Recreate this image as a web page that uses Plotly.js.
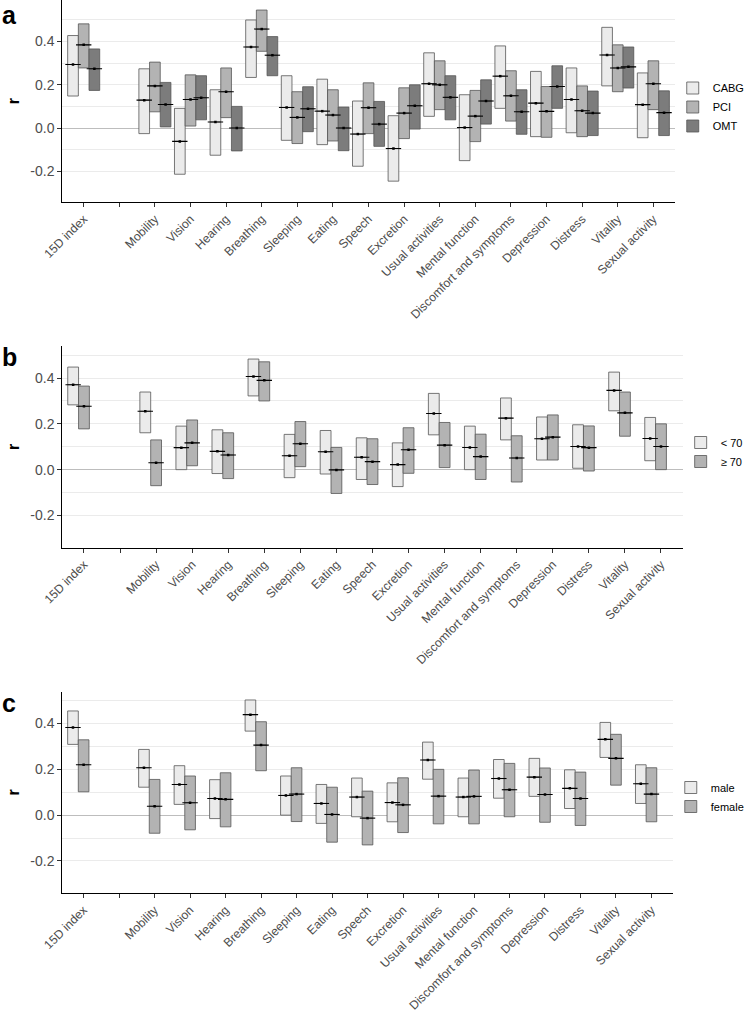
<!DOCTYPE html>
<html>
<head>
<meta charset="utf-8">
<script src="https://cdn.plot.ly/plotly-3.0.1.min.js"></script>
<style>
  html, body { margin: 0; padding: 0; background: #fff; }
  #chart { width: 750px; height: 1013px; }
</style>
</head>
<body>
<div id="chart"></div>
<script>
/******************** DATA ********************/
// tick slots on the x axis; the empty one is the gap after the index
const tickLabels = ['15D index', '', 'Mobility', 'Vision', 'Hearing', 'Breathing', 'Sleeping',
  'Eating', 'Speech', 'Excretion', 'Usual activities', 'Mental function',
  'Discomfort and symptoms', 'Depression', 'Distress', 'Vitality', 'Sexual activity'];
const dimensions = tickLabels.filter(s => s !== '');

const yTickVals = [-0.2, 0, 0.2, 0.4];
const yTickText = ['-0.2', '0.0', '0.2', '0.4'];
const yMinorVals = [-0.1, 0.1, 0.3, 0.5];

// panel a: treatment group
const cabgEst = [0.294, 0.129, -0.062, 0.028, 0.375, 0.095, 0.078, -0.028, -0.095, 0.205, 0.002, 0.240, 0.115, 0.132, 0.338, 0.108];
const cabgLo  = [0.148, -0.026, -0.214, -0.126, 0.234, -0.057, -0.077, -0.177, -0.246, 0.054, -0.151, 0.091, -0.040, -0.022, 0.195, -0.045];
const cabgHi  = [0.428, 0.274, 0.091, 0.177, 0.500, 0.242, 0.226, 0.125, 0.057, 0.348, 0.154, 0.380, 0.262, 0.278, 0.466, 0.255];
const pciEst  = [0.385, 0.195, 0.132, 0.168, 0.458, 0.049, 0.060, 0.094, 0.069, 0.200, 0.055, 0.149, 0.077, 0.080, 0.278, 0.205];
const pciLo   = [0.278, 0.075, 0.009, 0.048, 0.355, -0.072, -0.060, -0.026, -0.049, 0.085, -0.063, 0.032, -0.043, -0.040, 0.168, 0.085];
const pciHi   = [0.482, 0.305, 0.246, 0.278, 0.546, 0.168, 0.177, 0.209, 0.186, 0.311, 0.174, 0.265, 0.192, 0.195, 0.385, 0.311];
const omtEst  = [0.274, 0.109, 0.140, 0.000, 0.337, 0.089, 0.000, 0.018, 0.103, 0.142, 0.125, 0.075, 0.192, 0.069, 0.283, 0.071];
const omtLo   = [0.174, 0.005, 0.038, -0.106, 0.242, -0.017, -0.105, -0.085, -0.005, 0.038, 0.018, -0.029, 0.091, -0.035, 0.185, -0.035];
const omtHi   = [0.366, 0.211, 0.242, 0.100, 0.423, 0.191, 0.097, 0.123, 0.200, 0.242, 0.223, 0.177, 0.288, 0.171, 0.375, 0.172];

// panel b: age group
const youngEst = [0.371, 0.255, 0.096, 0.080, 0.407, 0.061, 0.078, 0.054, 0.022, 0.245, 0.097, 0.225, 0.135, 0.101, 0.346, 0.136];
const youngLo  = [0.283, 0.161, 0.000, -0.017, 0.322, -0.035, -0.019, -0.043, -0.074, 0.152, 0.000, 0.130, 0.042, 0.006, 0.257, 0.039];
const youngHi  = [0.448, 0.339, 0.190, 0.174, 0.483, 0.154, 0.171, 0.139, 0.117, 0.333, 0.190, 0.313, 0.230, 0.196, 0.426, 0.228];
const oldEst   = [0.277, 0.030, 0.117, 0.064, 0.390, 0.113, -0.001, 0.035, 0.087, 0.107, 0.057, 0.051, 0.142, 0.096, 0.248, 0.101];
const oldLo    = [0.178, -0.070, 0.017, -0.039, 0.300, 0.013, -0.104, -0.065, -0.016, 0.009, -0.043, -0.054, 0.042, -0.006, 0.146, 0.000];
const oldHi    = [0.365, 0.130, 0.217, 0.161, 0.471, 0.210, 0.097, 0.135, 0.183, 0.206, 0.155, 0.148, 0.239, 0.191, 0.339, 0.200];

// panel c: sex
const maleEst   = [0.383, 0.207, 0.134, 0.073, 0.439, 0.086, 0.051, 0.079, 0.055, 0.241, 0.079, 0.160, 0.166, 0.117, 0.331, 0.137];
const maleLo    = [0.309, 0.122, 0.047, -0.015, 0.367, 0.000, -0.036, -0.007, -0.029, 0.157, -0.007, 0.074, 0.082, 0.029, 0.252, 0.051];
const maleHi    = [0.455, 0.287, 0.216, 0.155, 0.503, 0.171, 0.134, 0.162, 0.141, 0.319, 0.162, 0.243, 0.248, 0.198, 0.405, 0.220];
const femaleEst = [0.220, 0.039, 0.054, 0.069, 0.306, 0.092, 0.003, -0.013, 0.045, 0.083, 0.082, 0.111, 0.090, 0.073, 0.248, 0.092];
const femaleLo  = [0.102, -0.079, -0.064, -0.051, 0.194, -0.028, -0.118, -0.130, -0.076, -0.038, -0.038, -0.007, -0.031, -0.045, 0.131, -0.029];
const femaleHi  = [0.329, 0.156, 0.171, 0.185, 0.408, 0.207, 0.122, 0.105, 0.163, 0.200, 0.197, 0.226, 0.206, 0.188, 0.353, 0.207];

/******************** STYLE ********************/
const FONT = 'Liberation Sans, Arial, sans-serif';
const DODGE = 0.3;          // offset between groups within a category
const BOX_W = 0.3;          // crossbar width in category units
const fills = ['#ebebeb', '#b3b3b3', '#7c7c7c'];

const panels = [
  { xa: 'x',  ya: 'y',  legend: 'legend',  series: [
      { name: 'CABG', est: cabgEst, lo: cabgLo, hi: cabgHi },
      { name: 'PCI',  est: pciEst,  lo: pciLo,  hi: pciHi },
      { name: 'OMT',  est: omtEst,  lo: omtLo,  hi: omtHi } ] },
  { xa: 'x2', ya: 'y2', legend: 'legend2', series: [
      { name: '< 70', est: youngEst, lo: youngLo, hi: youngHi },
      { name: '\u2265 70', est: oldEst, lo: oldLo, hi: oldHi } ] },
  { xa: 'x3', ya: 'y3', legend: 'legend3', series: [
      { name: 'male',   est: maleEst,   lo: maleLo,   hi: maleHi },
      { name: 'female', est: femaleEst, lo: femaleLo, hi: femaleHi } ] }
];

/******************** TRACES ********************/
const basePos = dimensions.map(d => tickLabels.indexOf(d));
const traces = [];

panels.forEach(panel => {
  panel.series.forEach((s, i) => {
    const xs = basePos.map(p => p + (i - 1) * DODGE);
    // crossbar body
    traces.push({
      type: 'box', name: s.name, xaxis: panel.xa, yaxis: panel.ya, legend: panel.legend,
      x: xs, q1: s.lo, median: s.est, q3: s.hi, lowerfence: s.lo, upperfence: s.hi,
      width: BOX_W, whiskerwidth: 0, boxpoints: false,
      fillcolor: fills[i], line: { color: '#555555', width: 0.8 },
      hoverinfo: 'skip'
    });
    // middle line (black) and point
    traces.push({
      type: 'scatter', mode: 'markers', xaxis: panel.xa, yaxis: panel.ya,
      x: xs, y: s.est, showlegend: false, hoverinfo: 'skip',
      marker: { symbol: 'line-ew', size: 11, line: { color: '#000', width: 1.1 } }
    });
    traces.push({
      type: 'scatter', mode: 'markers', xaxis: panel.xa, yaxis: panel.ya,
      x: xs, y: s.est, showlegend: false, hoverinfo: 'skip',
      marker: { symbol: 'square', size: 2.5, color: '#000' }
    });
  });
});

/******************** LAYOUT ********************/
function xAxis(domain, anchor) {
  return {
    domain: domain, anchor: anchor, range: [-0.6, 16.6],
    tickmode: 'array', tickvals: tickLabels.map((_, i) => i), ticktext: tickLabels,
    tickangle: -45, tickfont: { family: FONT, size: 12.2, color: '#4d4d4d' },
    ticks: 'outside', ticklen: 4, tickwidth: 1, tickcolor: '#333',
    showline: true, linecolor: '#000', linewidth: 1.1,
    showgrid: false, zeroline: false, automargin: false
  };
}
function yAxis(domain, anchor, range) {
  return {
    domain: domain, anchor: anchor, range: range,
    tickmode: 'array', tickvals: yTickVals, ticktext: yTickText,
    tickfont: { family: FONT, size: 14, color: '#4d4d4d' },
    ticks: 'outside', ticklen: 4, tickwidth: 1, tickcolor: '#333',
    showline: true, linecolor: '#000', linewidth: 1.1,
    showgrid: true, gridcolor: '#ebebeb', gridwidth: 1,
    minor: { tickmode: 'array', tickvals: yMinorVals, showgrid: true, gridcolor: '#ebebeb', gridwidth: 1, ticks: '' },
    zeroline: true, zerolinecolor: '#bdbdbd', zerolinewidth: 1,
    title: { text: '<b>r</b>', font: { family: FONT, size: 16, color: '#000' }, standoff: 6 },
    automargin: false
  };
}
function legendAt(x, y) {
  return {
    x: x, y: y, xanchor: 'left', yanchor: 'middle',
    font: { family: FONT, size: 11, color: '#000' },
    bgcolor: 'rgba(0,0,0,0)', borderwidth: 0, itemclick: false
  };
}
function letter(text, y) {
  return {
    text: '<b>' + text + '</b>', xref: 'paper', yref: 'paper', x: 0, y: y,
    xanchor: 'left', yanchor: 'middle', showarrow: false,
    font: { family: FONT, size: 25, color: '#000' }
  };
}

const H = 1013, W = 750;
const layout = {
  width: W, height: H,
  margin: { l: 0, r: 0, t: 0, b: 0 },
  paper_bgcolor: '#fff', plot_bgcolor: '#fff',
  font: { family: FONT },
  xaxis:  xAxis([63 / W, 682 / W], 'y'),
  yaxis:  yAxis([1 - 202 / H, 1], 'x', [-0.3425, 0.5925]),
  xaxis2: xAxis([63 / W, 690 / W], 'y2'),
  yaxis2: yAxis([1 - 547.5 / H, 1 - 346 / H], 'x2', [-0.34, 0.54]),
  xaxis3: xAxis([63 / W, 680 / W], 'y3'),
  yaxis3: yAxis([1 - 893 / H, 1 - 691.5 / H], 'x3', [-0.34, 0.54]),
  legend:  legendAt(680 / W, 1 - 107 / H),
  legend2: legendAt(688 / W, 1 - 452 / H),
  legend3: legendAt(678 / W, 1 - 797 / H),
  annotations: [letter('a', 1 - 15 / H), letter('b', 1 - 357 / H), letter('c', 1 - 703 / H)],
  showlegend: true
};

Plotly.newPlot('chart', traces, layout, { staticPlot: true, displayModeBar: false });
</script>
</body>
</html>
